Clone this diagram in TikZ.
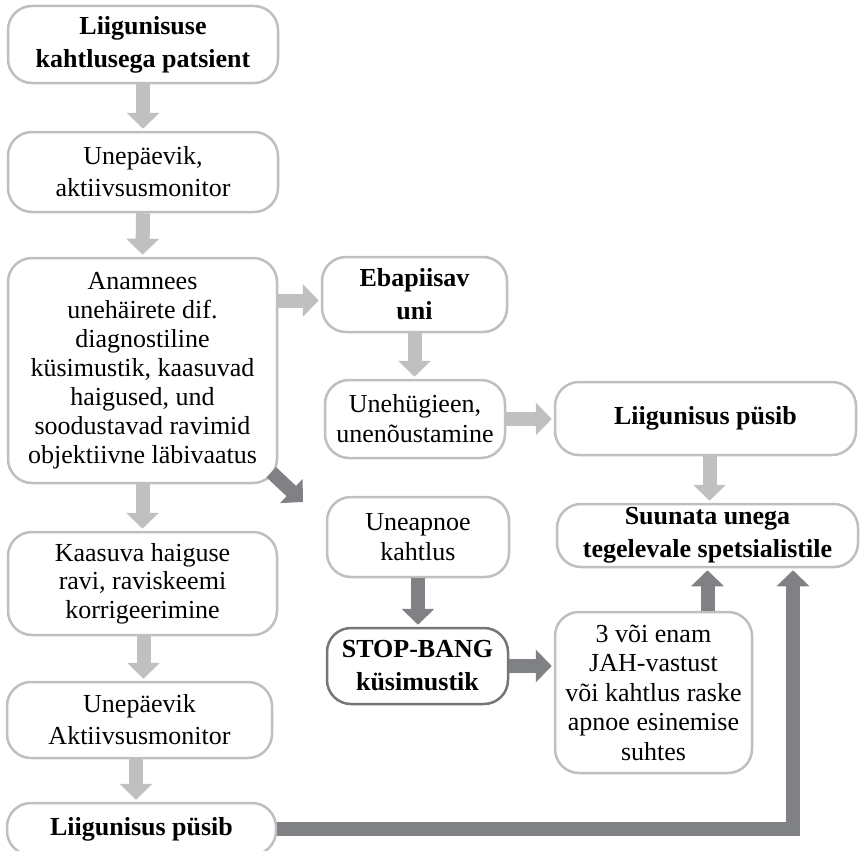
\documentclass[tikz,border=0pt]{standalone}
\usepackage{fontspec}
\setmainfont{Liberation Serif}
\usetikzlibrary{arrows.meta,calc}
\definecolor{boxgray}{RGB}{191,191,191}
\definecolor{lightarr}{RGB}{192,192,192}
\definecolor{darkarr}{RGB}{128,129,133}
\definecolor{stopgray}{RGB}{118,118,120}

\begin{document}
\begin{tikzpicture}[x=1pt,y=-1pt,
  box/.style={draw=boxgray, line width=2.5pt, rounded corners=24pt, fill=white,
    align=center, inner sep=0pt, font=\fontsize{26}{30}\selectfont},
  keybox/.style={box, font=\fontsize{26}{33}\selectfont\bfseries},
  light/.style={draw=lightarr, line width=14pt, -{Triangle[length=16pt,width=32pt]}, shorten >=2pt},
  dark/.style={draw=darkarr, line width=14pt, -{Triangle[length=16pt,width=32pt]}, shorten >=2pt}]
\clip (0,0) rectangle (862,851);
% left column
\node[keybox, minimum width=270pt, minimum height=77pt](susp) at (143,44.5){Liigunisuse\\kahtlusega patsient};
\node[box, minimum width=270pt, minimum height=80pt, font=\fontsize{26}{32}\selectfont](diary) at (143,172){Unepäevik,\\aktiivsusmonitor};
\node[box, minimum width=269pt, minimum height=225pt, font=\fontsize{26}{29}\selectfont](anam) at (142.5,370.5){Anamnees\\unehäirete dif.\\diagnostiline\\küsimustik, kaasuvad\\haigused, und\\soodustavad ravimid\\objektiivne läbivaatus};
\node[box, minimum width=269pt, minimum height=103pt, font=\fontsize{26}{28.5}\selectfont](cure) at (142.5,583.5){Kaasuva haiguse\\ravi, raviskeemi\\korrigeerimine};
\node[box, minimum width=265pt, minimum height=76pt, font=\fontsize{26}{32}\selectfont](diary2) at (139.5,720){Unepäevik\\Aktiivsusmonitor};
\node[keybox, minimum width=269pt, minimum height=52pt](stay) at (141.5,829){Liigunisus püsib};
% middle column
\node[keybox, minimum width=185pt, minimum height=75pt](poor) at (414.5,294.5){Ebapiisav\\uni};
\node[box, minimum width=180pt, minimum height=78pt](hyg) at (415,419){Unehügieen,\\unenõustamine};
\node[box, minimum width=182pt, minimum height=80pt](apnoe) at (418,537){Uneapnoe\\kahtlus};
\node[keybox, draw=stopgray, minimum width=181pt, minimum height=76pt](stop) at (417.5,666){STOP-BANG\\küsimustik};
% right column
\node[keybox, minimum width=301pt, minimum height=73pt](stay2) at (705.5,418.5){Liigunisus püsib};
\node[keybox, minimum width=301pt, minimum height=63pt](refer) at (707.5,535.5){Suunata unega\\tegelevale spetsialistile};
\node[box, minimum width=197pt, minimum height=161pt, font=\fontsize{26}{29.5}\selectfont](yes) at (653.5,692.5){3 või enam\\JAH-vastust\\või kahtlus raske\\apnoe esinemise\\suhtes};
\coordinate (diagtip) at (303,502);
\coordinate (turn) at (793,829);
% light arrows
\draw[light] (susp.south) -- (diary.north);
\draw[light] (diary.south) -- (anam.north);
\draw[light] ([yshift=-6pt]poor.west -| anam.east) -- ([yshift=-6pt]poor.west);
\draw[light] (poor.south) -- (poor.south |- hyg.north);
\draw[light] (hyg.east) -- (hyg.east -| stay2.west);
\draw[light] ([xshift=4pt]stay2.south) -- ([xshift=4pt]stay2.south |- refer.north);
\draw[light] (anam.south) -- (anam.south |- cure.north);
\draw[light] ([xshift=1pt]cure.south) -- ([xshift=1pt]cure.south |- diary2.north);
\draw[light] ([xshift=-3.5pt]diary2.south) -- ([xshift=-3.5pt]diary2.south |- stay.north);
% dark arrows
\draw[dark, shorten >=0pt] ($(anam.south east)+(-7,-12)$) -- (diagtip);
\draw[dark] (apnoe.south) -- (apnoe.south |- stop.north);
\draw[dark] (stop.east) -- (stop.east -| yes.west);
\draw[dark] (refer.south |- yes.north) -- (refer.south);
\draw[dark, line join=miter] (stay.east) -- (turn) -- (turn |- refer.south);
\end{tikzpicture}
\end{document}
